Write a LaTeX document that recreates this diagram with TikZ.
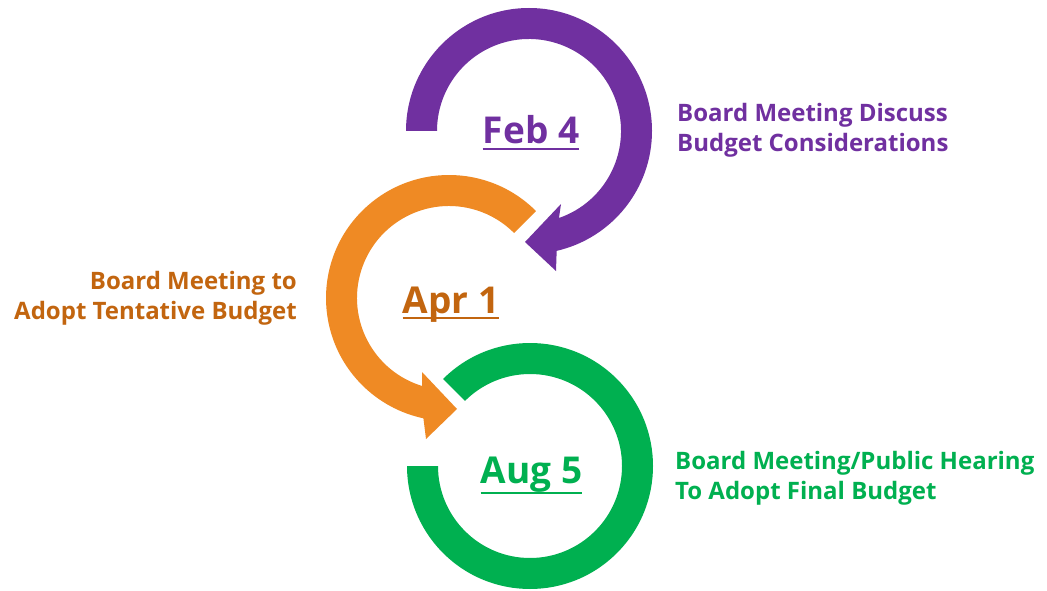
\documentclass[tikz,border=0pt]{standalone}
\usepackage{fontspec}
\setmainfont{Open Sans}
\usetikzlibrary{calc}
\definecolor{cpurple}{HTML}{7030A0}
\definecolor{corange}{HTML}{EF8A24}
\definecolor{corangetext}{HTML}{C2650F}
\definecolor{cgreen}{HTML}{00B050}
\begin{document}
\begin{tikzpicture}[x=1pt,y=-1pt,
  date/.style={font=\bfseries\fontsize{37}{44}\selectfont, inner sep=0pt, anchor=base},
  sidel/.style={font=\bfseries\fontsize{24}{30}\selectfont, inner sep=0pt, anchor=base west},
  sider/.style={font=\bfseries\fontsize{24}{30}\selectfont, inner sep=0pt, anchor=base east},
  uline/.style={line width=2.5pt}]
\useasboundingbox[fill=white] (0,0) rectangle (1047,591);
\coordinate (pc) at (529,131);
\coordinate (oc) at (449,298);
\coordinate (gc) at (530,466);
\coordinate (ph1) at (556,271);
\coordinate (ptip) at (525,242);
\coordinate (ph2) at (561,204);
\coordinate (oh1) at (426,439);
\coordinate (otip) at (457,409);
\coordinate (oh2) at (422,372);
% purple arrow
\fill[cpurple] ($(pc)+(180:123)$) arc[start angle=180, end angle=437, radius=123]
  -- (ph1) -- (ptip) -- (ph2) -- ($(pc)+(431:92)$)
  arc[start angle=431, end angle=180, radius=92] -- cycle;
% orange arrow
\fill[corange] ($(oc)+(315:123)$) arc[start angle=315, end angle=102, radius=123]
  -- (oh1) -- (otip) -- (oh2) -- ($(oc)+(107:92)$)
  arc[start angle=107, end angle=315, radius=92] -- cycle;
% green ring
\fill[cgreen] ($(gc)+(225:123)$) arc[start angle=225, end angle=540, radius=123]
  -- ($(gc)+(540:92)$) arc[start angle=540, end angle=225, radius=92] -- cycle;
% dates
\node[date, text=cpurple] (feb) at (531,143) {Feb 4};
\node[date, text=corangetext] (apr) at (451,313) {Apr 1};
\node[date, text=cgreen] (aug) at (531.5,483) {Aug 5};
\draw[uline, cpurple] ([yshift=-6pt]feb.base west) -- ([yshift=-6pt]feb.base east);
\draw[uline, corangetext] ([yshift=-5pt]apr.base west) -- ([yshift=-5pt]apr.base east);
\draw[uline, cgreen] ([yshift=-10pt]aug.base west) -- ([yshift=-10pt]aug.base east);
% side texts
\node[sidel, text=cpurple] (p1) at (677,122) {Board Meeting Discuss};
\node[sidel, text=cpurple] (p2) at (677,152) {Budget Considerations};
\node[sider, text=corangetext] (o1) at (297,289) {Board Meeting to};
\node[sider, text=corangetext] (o2) at (297,319) {Adopt Tentative Budget};
\node[sidel, text=cgreen] (g1) at (675,469) {Board Meeting/Public Hearing};
\node[sidel, text=cgreen] (g2) at (675,499) {To Adopt Final Budget};
\end{tikzpicture}
\end{document}
